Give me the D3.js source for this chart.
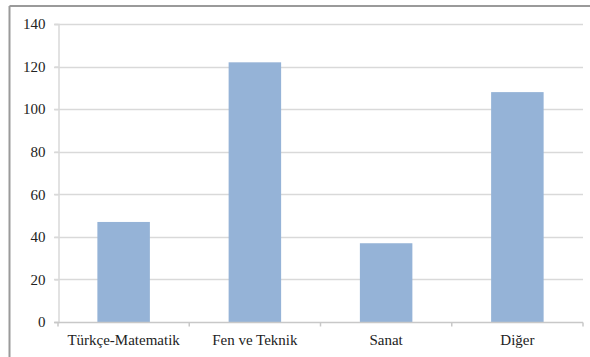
<!DOCTYPE html>
<html><head><meta charset="utf-8">
<script src="https://cdn.jsdelivr.net/npm/d3@7"></script>
</head><body style="margin:0">
<script>
const categories = ["Türkçe-Matematik", "Fen ve Teknik", "Sanat", "Diğer"];
const values = [47, 122, 37, 108];
const yTicks = [0, 20, 40, 60, 80, 100, 120, 140];

const W = 590, H = 357;
const m = {left: 58, right: 7, top: 24, bottom: 35};
const svg = d3.select("body").append("svg").attr("width", W).attr("height", H)
  .style("display", "block").style("font-family", '"Liberation Serif"');

// outer frame
svg.append("line").attr("x1", 9.5).attr("x2", W).attr("y1", 6).attr("y2", 6)
  .attr("stroke", "#9a9a9a").attr("stroke-width", 2);
svg.append("line").attr("x1", 9.5).attr("x2", 9.5).attr("y1", 6).attr("y2", H)
  .attr("stroke", "#9a9a9a").attr("stroke-width", 2);

const x = d3.scaleBand().domain(categories).range([m.left, W - m.right]).paddingInner(0.6).paddingOuter(0.3);
const y = d3.scaleLinear().domain([0, 140]).range([H - m.bottom, m.top]);

// gridlines
svg.append("g").selectAll("line").data(yTicks.filter(d => d > 0)).join("line")
  .attr("x1", m.left - 4).attr("x2", W - m.right)
  .attr("y1", d => Math.round(y(d)) + 0.5).attr("y2", d => Math.round(y(d)) + 0.5)
  .attr("stroke", "#d9d9d9").attr("stroke-width", 1.5);

// y axis
const ya = svg.append("g").attr("transform", `translate(${m.left + 0.5},0)`)
  .call(d3.axisLeft(y).tickValues(yTicks).tickSize(4).tickPadding(9));
ya.attr("font-family", null).attr("font-size", null);
ya.select(".domain").attr("stroke", "#d9d9d9").attr("stroke-width", 1.5);
ya.selectAll(".tick line").attr("stroke", "#d9d9d9").attr("stroke-width", 1.5);
ya.selectAll("text").style("font-family", d => '"Liberation Serif"').style("font-size", "15px").attr("fill", "#222");

// bars
svg.append("g").selectAll("rect").data(values).join("rect")
  .attr("x", (d, i) => x(categories[i]))
  .attr("width", x.bandwidth())
  .attr("y", d => y(d))
  .attr("height", d => y(0) - y(d))
  .attr("fill", "#95b3d7");

// x axis
const xa = svg.append("g").attr("transform", `translate(0,${Math.round(y(0)) + 0.5})`);
xa.append("line").attr("x1", m.left - 4).attr("x2", W - m.right).attr("stroke", "#c8c8c8").attr("stroke-width", 1.5);
const bounds = d3.range(categories.length + 1).map(i => m.left + i * (W - m.left - m.right) / categories.length);
xa.selectAll(".tk").data(bounds).join("line").attr("class", "tk")
  .attr("x1", d => d).attr("x2", d => d).attr("y1", 0).attr("y2", 4)
  .attr("stroke", "#c8c8c8").attr("stroke-width", 1.5);
xa.selectAll("text.cat").data(categories).join("text").attr("class", "cat")
  .attr("x", d => x(d) + x.bandwidth() / 2).attr("y", 22)
  .attr("text-anchor", "middle")
  .style("font-family", d => '"Liberation Serif"').style("font-size", "15px").attr("fill", "#222")
  .text(d => d);
</script>
</body></html>
